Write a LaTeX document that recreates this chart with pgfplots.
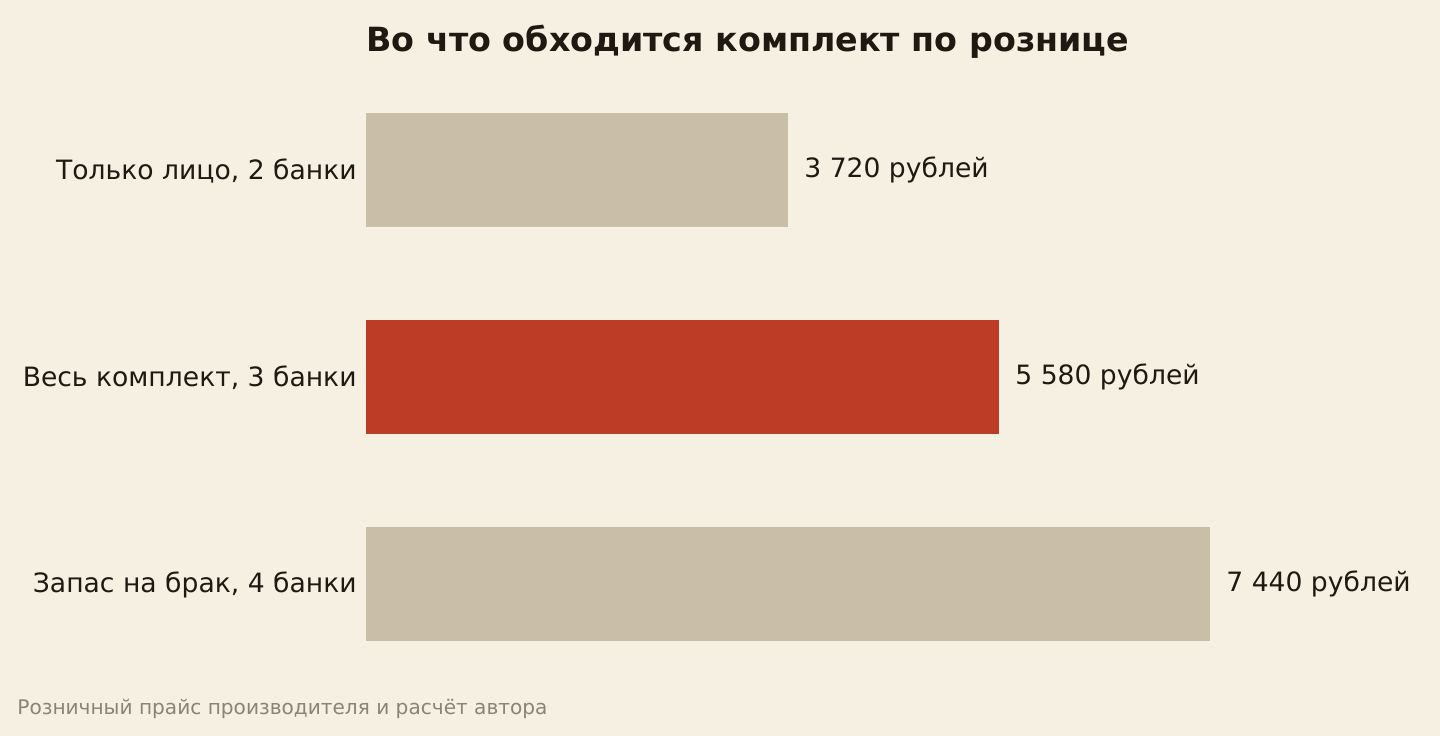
\documentclass[border=0pt]{standalone}
\usepackage{fontspec}
\setmainfont{DejaVu Sans}
\usepackage{pgfplots}
\pgfplotsset{compat=1.18}
\definecolor{bgc}{HTML}{F6F0E3}
\definecolor{beige}{HTML}{C9BFA8}
\definecolor{brick}{HTML}{BC3C26}
\definecolor{ink}{HTML}{1E1A12}
\definecolor{note}{HTML}{8A8478}
\begin{document}
\begin{tikzpicture}
% canvas 1440x736 px, 1px = 0.5bp
\fill[bgc] (0,0) rectangle (720bp,368bp);
\begin{axis}[
  at={(183bp,24.25bp)}, anchor=south west,
  scale only axis,
  width=422bp, height=310.5bp,
  xbar, bar shift=0pt, bar width=0.55,
  xmin=0, xmax=7440,
  ymin=-0.5, ymax=2.5,
  axis line style={draw=none},
  xtick=\empty,
  ytick={0,1,2},
  yticklabels={{Запас на брак, 4 банки},{Весь комплект, 3 банки},{Только лицо, 2 банки}},
  ytick style={draw=none},
  major tick length=0pt,
  yticklabel style={font=\fontsize{13.3bp}{16bp}\selectfont, text=ink, inner sep=0pt, xshift=-4.5bp, yshift=-0.5bp},
  clip=false,
  point meta=explicit symbolic,
  nodes near coords,
  nodes near coords style={font=\fontsize{13.3bp}{16bp}\selectfont, text=ink, anchor=west, inner sep=0pt, xshift=8bp},
]
\addplot[fill=beige, draw=none] coordinates {(7440,0) [7 440 рублей]};
\addplot[fill=brick, draw=none] coordinates {(5580,1) [5 580 рублей]};
\addplot[fill=beige, draw=none] coordinates {(3720,2) [3 720 рублей]};
\end{axis}
\node[anchor=base west, inner sep=0pt, text=ink, font=\fontsize{16.65bp}{20bp}\selectfont\bfseries] at (183bp,342bp) {Во что обходится комплект по рознице};
\node[anchor=base west, inner sep=0pt, text=note, font=\fontsize{10.05bp}{12bp}\selectfont] at (8.5bp,11bp) {Розничный прайс производителя и расчёт автора};
\end{tikzpicture}
\end{document}
